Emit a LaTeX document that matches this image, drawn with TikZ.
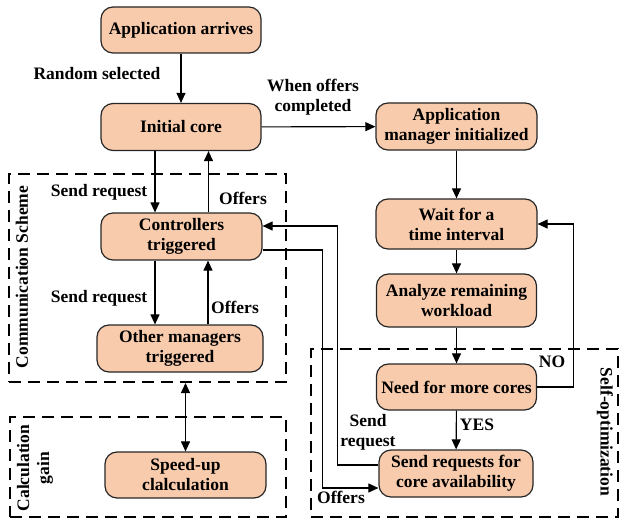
\documentclass[tikz,border=0pt]{standalone}
\usepackage{fontspec}
\setmainfont{Liberation Serif}
\usetikzlibrary{arrows.meta,calc}
\definecolor{peach}{RGB}{248,203,172}
\begin{document}
\begin{tikzpicture}[x=1pt,y=-1pt,
  every node/.style={font=\fontsize{17.5}{20}\selectfont\bfseries},
  box/.style={draw=black!85, line width=1.2pt, fill=peach, rounded corners=12pt, align=center, inner sep=0pt},
  group/.style={draw, line width=2pt, dash pattern=on 12pt off 7pt, inner sep=0pt},
  lab/.style={align=center, inner sep=0pt},
  arr/.style={line width=1.1pt, -{Triangle[length=10pt,width=9pt]}},
  arrb/.style={line width=1.1pt, {Triangle[length=10pt,width=9pt]}-{Triangle[length=10pt,width=9pt]}},
  ln/.style={line width=1.1pt}]
\useasboundingbox (0,0) rectangle (619,519);
% groups
\node[group, minimum width=277pt, minimum height=208pt] (comm) at (147.5,278) {};
\node[group, minimum width=276pt, minimum height=100pt] (calc) at (148,467) {};
\node[group, minimum width=307pt, minimum height=168pt] (self) at (464.5,433) {};
\node[lab, rotate=90] (commlab) at (22,277) {Communication Scheme};
\node[lab, rotate=90] (calclab) at (35,468) {Calculation\\gain};
\node[lab, rotate=-90] (selflab) at (605,432) {Self-optimization};
% boxes
\node[box, minimum width=160pt, minimum height=46pt] (aa) at (181,30) {Application arrives};
\node[box, minimum width=160pt, minimum height=47pt] (ic) at (181,127) {Initial core};
\node[box, minimum width=161pt, minimum height=47pt] (am) at (456.5,126.5) {Application\\manager initialized};
\node[box, minimum width=161pt, minimum height=50pt] (wt) at (456.5,224) {Wait for a\\time interval};
\node[box, minimum width=160pt, minimum height=53pt] (an) at (456.5,300.5) {Analyze remaining\\workload};
\node[box, minimum width=160pt, minimum height=46pt] (nd) at (456.5,387) {Need for more cores};
\node[box, minimum width=154pt, minimum height=47pt] (sr) at (456,473.5) {Send requests for\\core availability};
\node[box, minimum width=161pt, minimum height=47pt] (ct) at (181.5,236.5) {Controllers\\triggered};
\node[box, minimum width=166pt, minimum height=47pt] (om) at (180,348.5) {Other managers\\triggered};
\node[box, minimum width=161pt, minimum height=46pt] (su) at (185.5,475) {Speed-up\\clalculation};
% connectors
\draw[arr] (aa) -- (ic);
\draw[arr] (ic) -- (am);
\draw[arr] ([xshift=-26pt]ic.south) coordinate (a1) -- (a1 |- ct.north);
\draw[arr] ([xshift=27pt]ct.north) coordinate (a2) -- (a2 |- ic.south);
\draw[arr] ([xshift=-26.5pt]ct.south) coordinate (a3) -- (a3 |- om.north);
\draw[arr] ([xshift=28pt]om.north) coordinate (a4) -- (a4 |- ct.south);
\draw[arrb] (su.north) -- (su.north |- comm.south);
\draw[arr] (am) -- (wt);
\draw[arr] (wt) -- (an);
\draw[arr] (an) -- (nd);
\draw[arr] (nd) -- (sr);
\draw[arr] (nd.east) -- ++(36,0) |- (wt.east);
\draw[arr] ([yshift=8.5pt]sr.west) -- ++(-41,0) |- ([yshift=10.5pt]ct.east);
\draw[arr] ([yshift=-13.5pt]ct.east) -- ++(60,0) |- ([yshift=-14.5pt]sr.west);
% labels
\node[lab] (l1) at (97,74) {Random selected};
\node[lab] (l2) at (313,97) {When offers\\completed};
\node[lab] (l3) at (99,192) {Send request};
\node[lab] (l4) at (243,198) {Offers};
\node[lab] (l5) at (99,298) {Send request};
\node[lab] (l6) at (235,307) {Offers};
\node[lab] (l7) at (552,362) {NO};
\node[lab] (l8) at (477,425) {YES};
\node[lab] (l9) at (368,432) {Send\\request};
\node[lab] (l10) at (341,497) {Offers};
\end{tikzpicture}
\end{document}
